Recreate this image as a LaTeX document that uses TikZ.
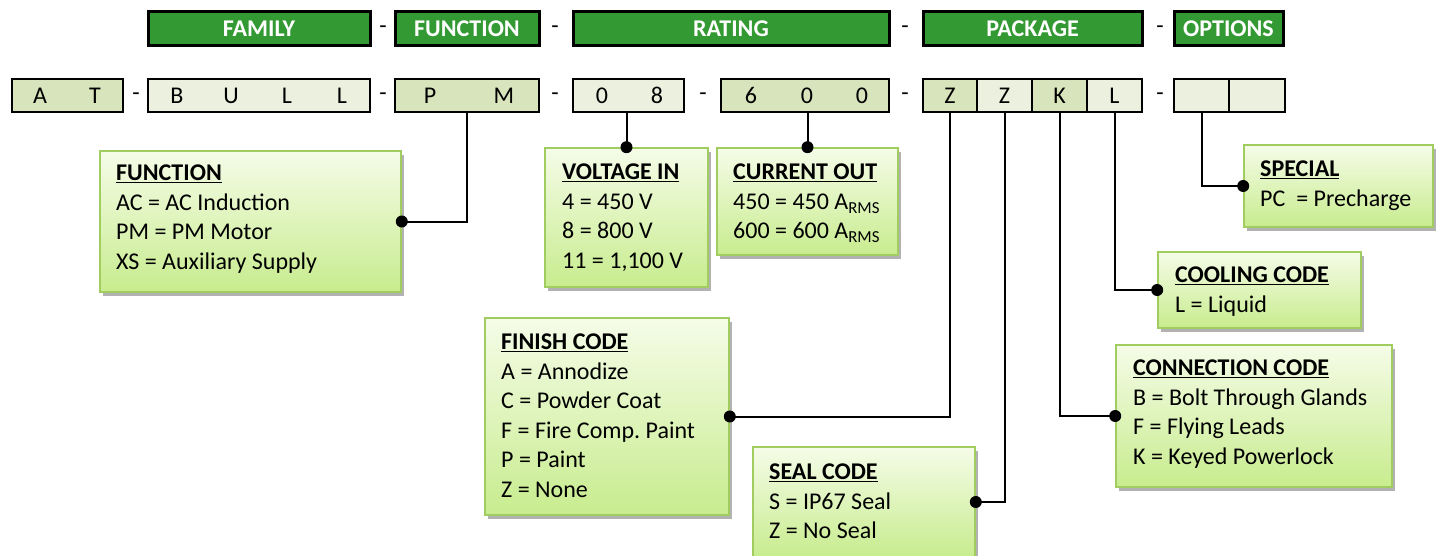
\documentclass[tikz,border=0pt]{standalone}
\usepackage{fontspec}
\setmainfont{Carlito}
\usetikzlibrary{shadows}
\frenchspacing
\definecolor{hdr}{RGB}{51,153,51}
\definecolor{cdark}{RGB}{216,228,188}
\definecolor{clight}{RGB}{235,241,222}
\definecolor{btop}{RGB}{245,252,232}
\definecolor{bbot}{RGB}{200,236,142}
\definecolor{bedge}{RGB}{160,204,96}
\newcommand\boxtitle[1]{\underline{\textbf{#1}}}
\tikzset{
  hdrbox/.style={draw=black, line width=3pt, fill=hdr, text=white,
    font=\fontsize{24}{28}\selectfont\bfseries, inner sep=0pt, minimum height=34pt},
  codecell/.style={draw=black, line width=2.4pt, inner sep=0pt, minimum height=33pt,
    font=\fontsize{24}{28}\selectfont},
  dk/.style={codecell, fill=cdark},
  lt/.style={codecell, fill=clight},
  ch/.style={font=\fontsize{24}{28}\selectfont, inner sep=0pt},
  sepdash/.style={font=\fontsize{24}{28}\selectfont, inner sep=0pt},
  infobox/.style={draw=bedge, line width=1.6pt, top color=btop, bottom color=bbot,
    inner sep=0pt, drop shadow={shadow xshift=3pt, shadow yshift=-4pt, opacity=0.3, fill=black}},
  infotext/.style={font=\fontsize{24}{29.5}\selectfont, align=left, anchor=north west, inner sep=0pt},
  conn/.style={line width=2pt, draw=black},
}
\begin{document}
\begin{tikzpicture}[x=1pt,y=-1pt]
\useasboundingbox (0,0) rectangle (1437,556);

% header row
\node[hdrbox, minimum width=222pt] (hfam) at (259,29) {FAMILY};
\node[hdrbox, minimum width=144pt] (hfun) at (467,29) {FUNCTION};
\node[hdrbox, minimum width=316pt] (hrat) at (731,29) {RATING};
\node[hdrbox, minimum width=219pt] (hpkg) at (1032.5,29) {PACKAGE};
\node[hdrbox, minimum width=109pt] (hopt) at (1228.5,29) {OPTIONS};
\node[sepdash] (hs1) at (383,30) {-};
\node[sepdash] (hs2) at (555,30) {-};
\node[sepdash] (hs3) at (905,30) {-};
\node[sepdash] (hs4) at (1160,30) {-};

% code row
\node[dk, minimum width=111pt] (cAT) at (67.5,95.5) {};
\node[lt, minimum width=222pt] (cBULL) at (259,95.5) {};
\node[dk, minimum width=144pt] (cPM) at (467,95.5) {};
\node[lt, minimum width=111pt] (c08) at (628.5,95.5) {};
\node[dk, minimum width=168pt] (c600) at (805,95.5) {};
\node[dk, minimum width=54pt] (cZa) at (950,95.5) {Z};
\node[lt, minimum width=55pt] (cZb) at (1004.5,95.5) {Z};
\node[dk, minimum width=55pt] (cK) at (1059.5,95.5) {K};
\node[lt, minimum width=55pt] (cL) at (1114.5,95.5) {L};
\node[lt, minimum width=55pt] (cO1) at (1201.5,95.5) {};
\node[lt, minimum width=56pt] (cO2) at (1257,95.5) {};

\node[ch] (lA) at (40,95.5) {A};
\node[ch] (lT) at (95,95.5) {T};
\node[ch] (lB) at (177,95.5) {B};
\node[ch] (lU) at (231,95.5) {U};
\node[ch] (lL1) at (287,95.5) {L};
\node[ch] (lL2) at (342,95.5) {L};
\node[ch] (lP) at (430,95.5) {P};
\node[ch] (lM) at (504,95.5) {M};
\node[ch] (l0) at (602,95.5) {0};
\node[ch] (l8) at (657,95.5) {8};
\node[ch] (l6) at (751,95.5) {6};
\node[ch] (l0b) at (807,95.5) {0};
\node[ch] (l0c) at (862,95.5) {0};

\node[sepdash] (cs1) at (136,97) {-};
\node[sepdash] (cs2) at (383,97) {-};
\node[sepdash] (cs3) at (555,97) {-};
\node[sepdash] (cs4) at (703,97) {-};
\node[sepdash] (cs5) at (905,97) {-};
\node[sepdash] (cs6) at (1160,97) {-};

% info boxes
\node[infobox, minimum width=301pt, minimum height=141pt] (bfun) at (250.5,221.5) {};
\node[infobox, minimum width=163pt, minimum height=139pt] (bvolt) at (626.5,217.5) {};
\node[infobox, minimum width=181pt, minimum height=107pt] (bcur) at (807.5,201.5) {};
\node[infobox, minimum width=244pt, minimum height=197pt] (bfin) at (607,416.5) {};
\node[infobox, minimum width=222pt, minimum height=110pt] (bseal) at (864,502) {};
\node[infobox, minimum width=189pt, minimum height=82pt] (bspec) at (1338.5,186) {};
\node[infobox, minimum width=203pt, minimum height=76pt] (bcool) at (1259.5,290) {};
\node[infobox, minimum width=276pt, minimum height=142pt] (bconn) at (1254,416) {};

\node[infotext] (tfun) at (116,165) {\boxtitle{FUNCTION}\\AC = AC Induction\\PM = PM Motor\\XS = Auxiliary Supply};
\node[infotext] (tvolt) at (562,164) {\boxtitle{VOLTAGE IN}\\4 = 450 V\\8 = 800 V\\11 = 1,100 V};
\node[infotext] (tcur) at (733,164) {\boxtitle{CURRENT OUT}\\450 = 450 A\textsubscript{RMS}\\600 = 600 A\textsubscript{RMS}};
\node[infotext] (tfin) at (501,334) {\boxtitle{FINISH CODE}\\A = Annodize\\C = Powder Coat\\F = Fire Comp. Paint\\P = Paint\\Z = None};
\node[infotext] (tseal) at (769,464) {\boxtitle{SEAL CODE}\\S = IP67 Seal\\Z = No Seal};
\node[infotext] (tspec) at (1260,161) {\boxtitle{SPECIAL}\\PC~ = Precharge};
\node[infotext] (tcool) at (1175,267) {\boxtitle{COOLING CODE}\\L = Liquid};
\node[infotext] (tconn) at (1133,360) {\boxtitle{CONNECTION CODE}\\B = Bolt Through Glands\\F = Flying Leads\\K = Keyed Powerlock};

% connectors
\draw[conn] (cPM.south) |- (bfun.east);
\draw[conn] (bvolt.north |- c08.south) -- (bvolt.north);
\draw[conn] (bcur.north |- c600.south) -- (bcur.north);
\draw[conn] (cZa.south) |- (bfin.east);
\draw[conn] (cZb.south) |- (bseal.east);
\draw[conn] (cK.south) |- (bconn.west);
\draw[conn] (cL.south) |- (bcool.west);
\draw[conn] (cO1.south) |- (bspec.west);

\foreach \p in {bfun.east, bvolt.north, bcur.north, bfin.east, bseal.east, bconn.west, bcool.west, bspec.west}
  \fill[black] (\p) circle[radius=6pt];
\end{tikzpicture}
\end{document}
